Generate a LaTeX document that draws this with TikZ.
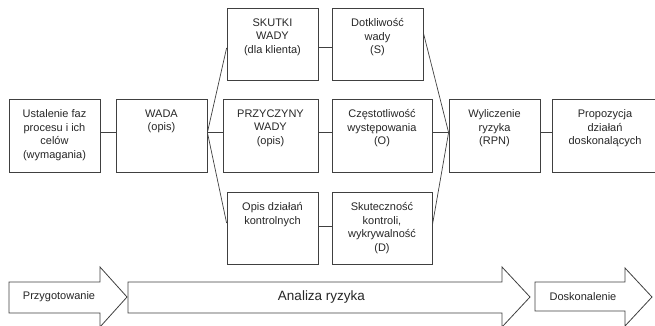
\documentclass[tikz,border=0pt]{standalone}
\usepackage{fontspec}
\setmainfont{Liberation Sans}
\usetikzlibrary{positioning,calc}

\begin{document}
\begin{tikzpicture}[
  x=1pt, y=-1pt,
  font=\fontsize{11}{13.5}\selectfont,
  box/.style={draw=black!75, line width=0.8pt, minimum height=73pt, inner sep=0pt},
  lbl/.style={anchor=north, yshift=-11pt, inner sep=0pt, align=center,
    text=black!85, execute at begin node=\strut},
  conn/.style={draw=black!75, line width=0.7pt},
  faza/.style={draw=black!75, line width=0.8pt, fill=white}
]
\useasboundingbox (0,0) rectangle (655,325);

%% ===== boxes =====
\node[box, minimum width=91pt] (ustal) at (54.5,135.5) {};
\node[lbl] at (ustal.north) {Ustalenie faz\\procesu i ich\\celów\\(wymagania)};
\node[box, minimum width=91pt] (wada) at (161.5,135.5) {};
\node[lbl] at (wada.north) {WADA\\(opis)};

\node[box, minimum width=91pt, minimum height=72pt] (skutki) at (272.5,44) {};
\node[lbl] at (skutki.north) {SKUTKI\\WADY\\(dla klienta)};
\node[box, minimum width=95pt] (przycz) at (270.5,135.5) {};
\node[lbl] at (przycz.north) {PRZYCZYNY\\WADY\\(opis)};
\node[box, minimum width=91pt, minimum height=72pt] (opis) at (272.5,228) {};
\node[lbl] at (opis.north) {Opis działań\\kontrolnych};

\node[box, minimum width=91pt, minimum height=72pt] (dotkl) at (377.5,44) {};
\node[lbl] at (dotkl.north) {Dotkliwość\\wady\\(S)};
\node[box, minimum width=100pt] (czest) at (382,135.5) {};
\node[lbl] at (czest.north) {Częstotliwość\\występowania\\(O)};
\node[box, minimum width=100pt, minimum height=72pt] (skut) at (382,228) {};
\node[lbl] at (skut.north) {Skuteczność\\kontroli,\\wykrywalność\\(D)};

\node[box, minimum width=91pt] (wylicz) at (494.5,135.5) {};
\node[lbl] at (wylicz.north) {Wyliczenie\\ryzyka\\(RPN)};
\node[box, minimum width=106pt] (propoz) at (605,135.5) {};
\node[lbl] at (propoz.north) {Propozycja\\działań\\doskonalących};

%% ===== connectors =====
\coordinate (wadaout) at ([yshift=3pt]wada.east);
\coordinate (wyliczin) at ([yshift=3pt]wylicz.west);
\draw[conn] ([yshift=3pt]ustal.east) -- ([yshift=3pt]wada.west);
\draw[conn] (wadaout) -- ([yshift=-4pt]skutki.west);
\draw[conn] (wadaout) -- ([yshift=3pt]przycz.west);
\draw[conn] (wadaout) -- ([yshift=5pt]opis.west);
\draw[conn] ([yshift=-3pt]skutki.east) -- ([yshift=-3pt]dotkl.west);
\draw[conn] ([yshift=3pt]przycz.east) -- ([yshift=3pt]czest.west);
\draw[conn] ([yshift=2pt]opis.east) -- ([yshift=2pt]skut.west);
\draw[conn] ([yshift=11pt]dotkl.east) -- (wyliczin);
\draw[conn] ([yshift=3pt]czest.east) -- (wyliczin);
\draw[conn] ([yshift=3pt]skut.east) -- (wyliczin);
\draw[conn] ([yshift=3pt]wylicz.east) -- ([yshift=3pt]propoz.west);

%% ===== phases =====
\draw[faza] (9,282) -- (100,282) -- (100,267) -- (127,297) -- (100,327)
  -- (100,313) -- (9,313) -- cycle;
\draw[faza] (128,282) -- (502,282) -- (502,267) -- (530,297) -- (502,327)
  -- (502,313) -- (128,313) -- cycle;
\draw[faza] (535,282) -- (625,282) -- (625,268) -- (652,297) -- (625,326)
  -- (625,311) -- (535,311) -- cycle;
\node[text=black!85] (przyg) at (59,297) {Przygotowanie};
\node[text=black!85, font=\fontsize{13.5}{16}\selectfont] (analiza) at (321.5,297) {Analiza ryzyka};
\node[text=black!85] (dosk) at (583,297) {Doskonalenie};
\end{tikzpicture}
\end{document}
